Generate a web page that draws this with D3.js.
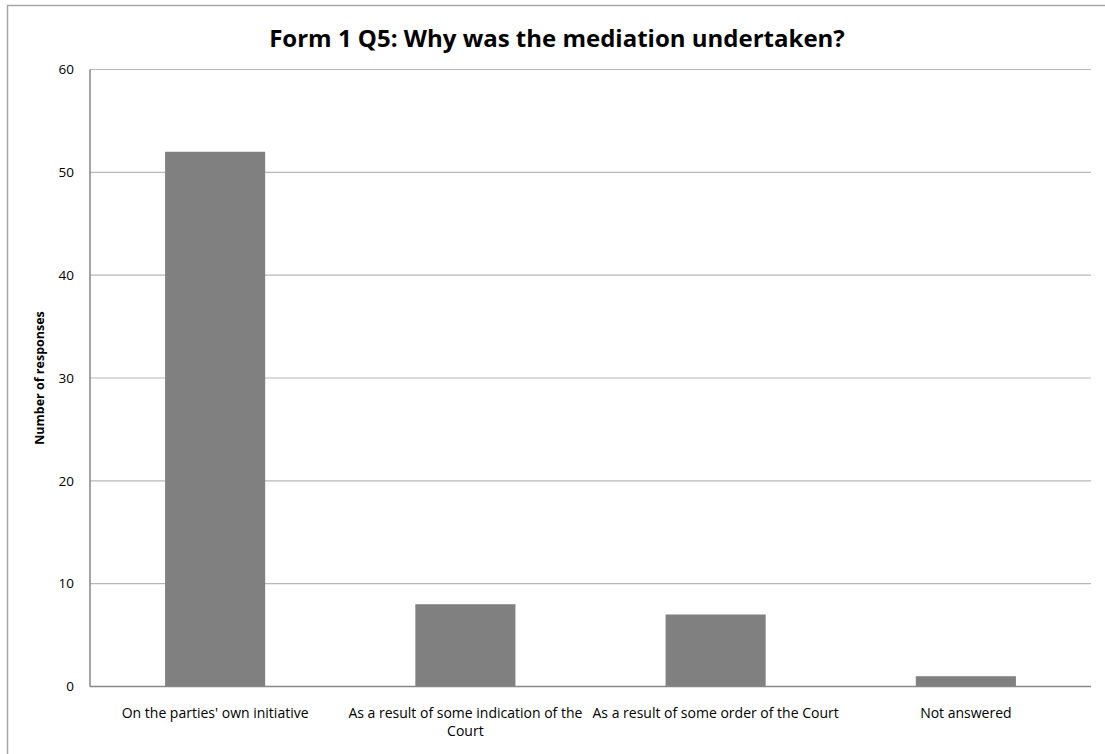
<!DOCTYPE html>
<html><head><meta charset="utf-8">
<script src="https://cdn.jsdelivr.net/npm/d3@7"></script>
<style>body{margin:0;background:#fff;} text{font-family:"Open Sans","Noto Sans",sans-serif;}</style>
</head><body>
<svg id="c" width="1105" height="754"></svg>
<script>
const categories = ["On the parties' own initiative", "As a result of some indication of the Court", "As a result of some order of the Court", "Not answered"];
const values = [52, 8, 7, 1];
const yTicks = [0, 10, 20, 30, 40, 50, 60];
const titleText = "Form 1 Q5: Why was the mediation undertaken?";
const yTitle = "Number of responses";

const svg = d3.select("#c");
const m = {l: 90, r: 1091, t: 69.5, b: 686.5};
svg.append("rect").attr("x", 7.5).attr("y", 5.5).attr("width", 1105).attr("height", 760)
  .attr("fill", "#fff").attr("stroke", "#a6a6a6").attr("stroke-width", 1.5);

const x = d3.scaleBand().domain(categories).range([m.l, m.r]).paddingInner(0.6).paddingOuter(0.3);
const y = d3.scaleLinear().domain([0, 60]).range([m.b, m.t]);

// gridlines
svg.append("g").selectAll("line").data(yTicks.filter(d => d > 0)).join("line")
  .attr("x1", m.l).attr("x2", m.r).attr("y1", d => y(d)).attr("y2", d => y(d))
  .attr("stroke", "#b8b8b8").attr("stroke-width", 1.2);

// bars
svg.append("g").selectAll("rect").data(values).join("rect")
  .attr("x", (d, i) => x(categories[i])).attr("width", x.bandwidth())
  .attr("y", d => y(d)).attr("height", d => y(0) - y(d))
  .attr("fill", "#808080");

// axes lines
svg.append("line").attr("x1", m.l).attr("x2", m.l).attr("y1", m.t).attr("y2", m.b)
  .attr("stroke", "#868686").attr("stroke-width", 1.5);
svg.append("line").attr("x1", m.l).attr("x2", m.r).attr("y1", m.b).attr("y2", m.b)
  .attr("stroke", "#868686").attr("stroke-width", 1.5);

// y tick labels
svg.append("g").selectAll("text").data(yTicks).join("text")
  .attr("x", 74).attr("y", d => y(d)).attr("dy", "0.35em").attr("text-anchor", "end")
  .attr("font-size", 13.5).attr("fill", "#000").text(d => d);

// x labels with wrapping
const bandFull = (m.r - m.l) / categories.length;
const xl = svg.append("g").selectAll("text").data(categories).join("text")
  .attr("x", d => x(d) + x.bandwidth() / 2).attr("y", 718).attr("text-anchor", "middle")
  .attr("font-size", 14).attr("fill", "#000");
xl.each(function(d) {
  const t = d3.select(this);
  const words = d.split(" ");
  let line = [], lines = [];
  const tmp = t.append("tspan");
  words.forEach(w => {
    const test = line.concat(w).join(" ");
    tmp.text(test);
    if (tmp.node().getComputedTextLength() > bandFull && line.length) {
      lines.push(line.join(" ")); line = [w];
    } else line.push(w);
  });
  lines.push(line.join(" "));
  tmp.remove();
  lines.forEach((l, i) => t.append("tspan").attr("x", x(d) + x.bandwidth() / 2)
    .attr("dy", i === 0 ? 0 : 18).text(l));
});

// y title
svg.append("text").attr("transform", "translate(44," + ((m.t + m.b) / 2) + ") rotate(-90)")
  .attr("text-anchor", "middle").attr("font-size", 12.5).attr("font-weight", "bold").text(yTitle);

// title
svg.append("text").attr("x", 557).attr("y", 47).attr("text-anchor", "middle")
  .attr("font-size", 24).attr("font-weight", "bold").text(titleText);
</script>
</body></html>
